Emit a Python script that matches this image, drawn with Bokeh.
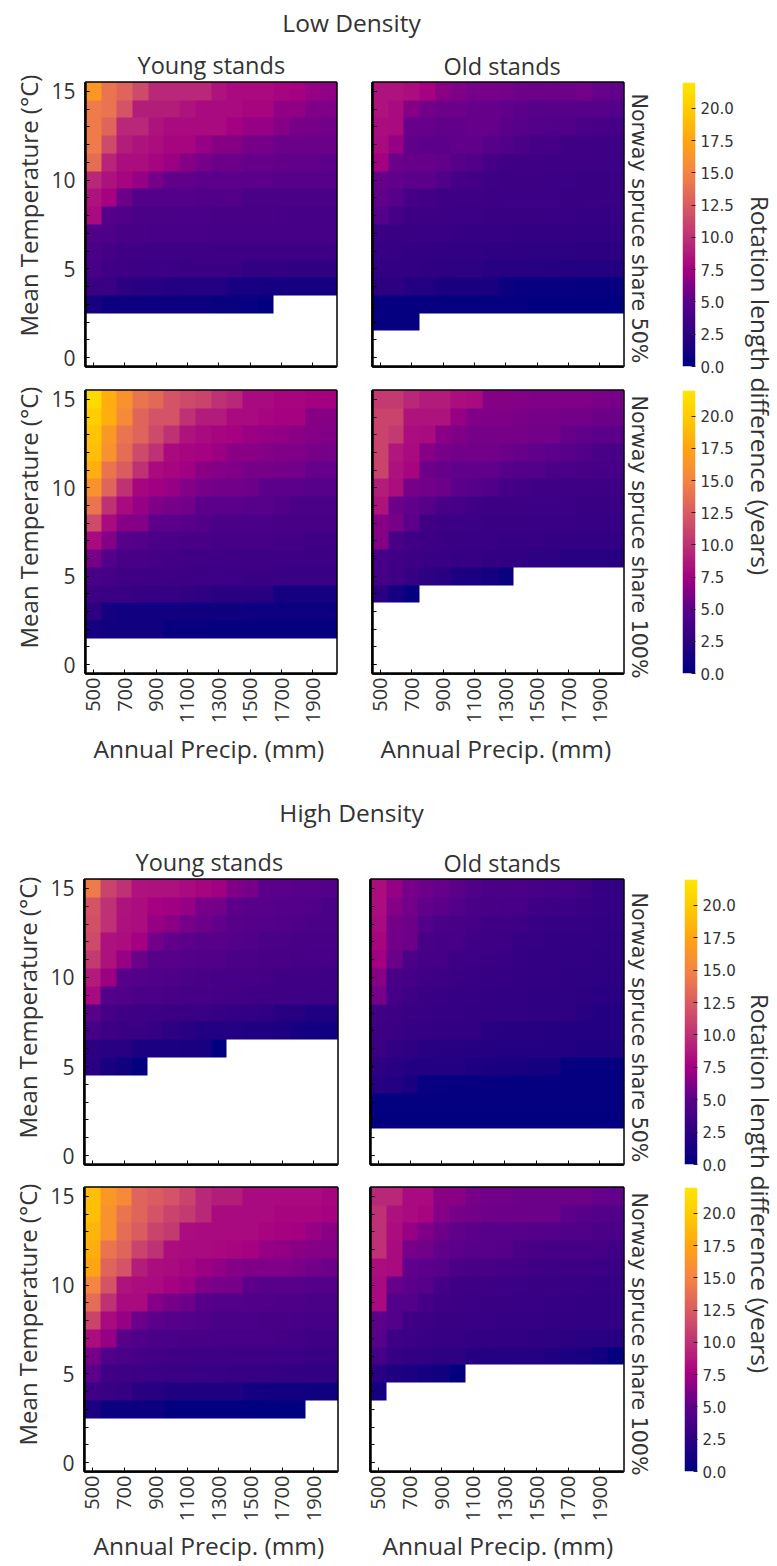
import numpy as np
from bokeh.plotting import figure
from bokeh.layouts import row, column
from bokeh.models import Label, LinearColorMapper, FixedTicker, Range1d, PrintfTickFormatter, Title
from bokeh.embed import file_html
from bokeh.resources import INLINE

_ = None
precip = list(range(500, 2100, 100))
temps = list(range(15, -1, -1))
x_ticks = [500, 700, 900, 1100, 1300, 1500, 1700, 1900]
y_ticks = [0, 5, 10, 15]
cbar_ticks = [0, 2.5, 5, 7.5, 10, 12.5, 15, 17.5, 20]
E16 = [_] * 16

low_young_50 = [
 [16.5,14,13,11.5,9.5,9.5,9.5,9.5,8.5,8,8,8,7.8,7.5,7,6.8],
 [14.5,14,12,9,9,9,8.5,8,8,8,7.8,7.8,6.8,6.8,6.2,6.2],
 [14.5,13,9.5,9.5,8.5,8,8,8,8,7.5,7,7,6.5,6,6,5.8],
 [14.5,11.5,9,8.5,8.2,7.8,7.8,7,6.5,6.5,6,6,5.5,5.5,5.5,5.5],
 [13.5,9.3,8.2,8.2,7.8,7.2,6.5,6,5.6,5.6,5.4,5.4,5.3,5.2,5.2,5],
 [9.5,8.4,7.8,7,6,5.2,5.2,5,5,5,5,5,4.8,4.8,4.8,4.8],
 [8.5,7.6,5.5,4.6,4.6,4.6,4.6,4.5,4.5,4.5,4.2,4.2,4.2,4.2,4.2,4.2],
 [8,4.7,4.4,4.2,4.2,4.2,4.1,4.1,4,4,4,4,3.9,3.9,3.9,3.9],
 [4.5,4.3,4,4,3.9,3.9,3.8,3.8,3.8,3.8,3.8,3.8,3.8,3.8,3.8,3.8],
 [4.2,3.8,3.6,3.6,3.5,3.5,3.5,3.5,3.4,3.4,3.4,3.4,3.4,3.4,3.4,3.4],
 [4,3.6,3.4,3.4,3.3,3.3,3.2,3.2,3.2,3.2,2.8,2.8,2.8,2.7,2.7,2.7],
 [3.2,3.2,2.5,2.4,2.3,2,2,1.9,1.9,1.3,1.3,1.2,1.2,1.2,1.2,1.2],
 [1.4,0.8,0.8,0.8,0.8,0.8,0.7,0.7,0.6,0.6,0.5,0.2,_,_,_,_],
 E16, E16, E16]

low_old_50 = [
 [8.5,8.5,8.2,7.6,6.6,6.2,6,6,5.8,5.6,5.6,5.6,5.6,5.8,5.4,5.2],
 [8.5,8,6.5,5.8,5.6,5.6,5.4,5.4,5.2,5,4.8,4.8,4.8,4.8,4.8,4.6],
 [8.2,8,5.4,5.4,5.2,5.2,5.4,5.4,5,4.8,4.6,4.4,4.4,4.2,4,3.8],
 [8,7,5.2,5,5,5.2,5.2,4.8,4.5,4.2,3.8,3.8,3.6,3.6,3.5,3.5],
 [7.5,5.5,5.4,5.4,5.2,4.8,4.5,3.8,3.6,3.6,3.6,3.5,3.5,3.4,3.4,3.3],
 [5.4,5.2,5,5,4.4,3.8,3.7,3.5,3.4,3.4,3.4,3.3,3.3,3.2,3.2,3.2],
 [5.2,4.8,3.8,3.7,3.6,3.5,3.5,3.4,3.3,3.3,3.3,3.3,3.2,3.2,3.2,3.2],
 [4.6,3.8,3.4,3.4,3.4,3.3,3.3,3.2,3.2,3.2,3.2,3.1,3.1,3,3,3],
 [3.2,3.2,3.2,3.1,3.1,3,3,3,3,2.9,2.9,2.9,2.9,2.8,2.8,2.8],
 [3,3,2.9,2.9,2.8,2.8,2.8,2.7,2.7,2.7,2.6,2.6,2.6,2.5,2.5,2.5],
 [2.9,2.8,2.8,2.7,2.7,2.6,2.6,2.2,2.2,2.2,2.1,2.1,2,2,2,2],
 [2.5,2.5,2,1.9,1.5,1.5,1.5,1.4,0.7,0.6,0.6,0.5,0.5,0.4,0.4,0.4],
 [0.4,0.4,0.4,0.4,0.3,0.3,0.3,0.3,0.3,0.3,0.2,0.2,0.2,0.2,0.2,0.2],
 [0.3,0.3,0.3,_,_,_,_,_,_,_,_,_,_,_,_,_],
 E16, E16]

low_young_100 = [
 [21,18,16,14,13.3,12,11.5,11,10,9.5,8,8,7.8,7.8,7.5,7.5],
 [20,18,15.5,13,12,12,10,8.8,8.8,8,8,7.8,7.6,7.6,6.5,6.5],
 [19.5,16.5,14,13,11.5,10,8.5,8,7.8,7.6,7.2,7,6.8,6.6,6.4,6.2],
 [19,16,13.5,11.5,10,8,7.8,7.6,7.2,6.6,6.6,6.4,6.2,6.2,6,6],
 [18,14,12.5,10,8,7.8,7.4,6.6,6.4,6.2,6,6,5.8,5.8,5.4,5.4],
 [16,13,10,7.8,7.4,7,6.4,6,5.8,5.8,5.6,5,5,5,4.8,4.8],
 [14,10,8,7,6.2,6,5.8,5,5,4.9,4.8,4.8,4.5,4.2,4.2,4.2],
 [11.5,8,6.5,6.4,5,4.9,4.8,4.5,4.2,4.2,4.1,4.1,4,4,4,4],
 [8,6.4,4.8,4.6,4.2,4.1,4,4,3.9,3.9,3.8,3.8,3.7,3.7,3.6,3.6],
 [6,4.6,4,4,3.8,3.7,3.6,3.6,3.6,3.5,3.5,3.5,3.4,3.4,3.4,3.4],
 [4,3.8,3.6,3.6,3.5,3.4,3.4,3.3,3.3,3.3,3.2,3.2,3.1,3.1,3.1,3.1],
 [3.4,3.2,3.2,3,3,3,2.8,2.6,2.4,2.4,2.3,2.3,1.2,1.2,1.2,1.2],
 [2.5,1.2,1,1,1,1,0.9,0.9,0.9,0.9,0.8,0.8,0.8,0.8,0.8,0.8],
 [1.2,1,1,1,1,0.4,0.4,0.4,0.3,0.3,0.3,0.3,0.3,0.3,0.3,0.3],
 E16, E16]

low_old_100 = [
 [10.5,10.5,9.5,8.8,8.8,8.2,8,6.5,6.5,6.3,6.2,6.2,6.2,6.2,6.1,6],
 [11,11,8.5,8.5,8.5,7,6.2,6.2,6.2,6.1,6,6,5.8,5.8,5.6,5.5],
 [11,10.5,8.2,8,6.6,6.2,6,6,6,6,5.8,5.8,5.4,5.2,5,5],
 [11,8.6,8,6.5,6,5.8,5.8,5.8,5.6,5.4,5.2,5,4.8,4.5,4.2,4],
 [11,8.4,7.8,5.6,5.4,5.2,5.2,5.2,4.8,4.6,4.6,4.2,4.1,4,3.8,3.8],
 [9,8.2,6,5.8,5.6,5,4.8,4.4,3.8,3.7,3.6,3.6,3.5,3.5,3.4,3.4],
 [8.5,5.6,5.2,4.8,4,3.8,3.6,3.4,3.4,3.4,3.3,3.3,3.3,3.2,3.2,3.2],
 [6.5,6,5,3.6,3.4,3.3,3.3,3.2,3.2,3.2,3.1,3.1,3.1,3,3,3],
 [6.4,4,3.6,3.4,3.2,3.2,3.1,3.1,3,3,3,2.9,2.9,2.8,2.8,2.8],
 [3.9,3.6,3.4,3.2,3.1,3,3,2.9,2.8,2.8,2.6,2.6,2.4,2.4,2.3,2.2],
 [3.8,3.6,3,2.6,2.4,1.7,1.6,1.2,0.6,_,_,_,_,_,_,_],
 [2.4,1.2,0.3,_,_,_,_,_,_,_,_,_,_,_,_,_],
 E16, E16, E16, E16]

high_young_50 = [
 [14.5,11,10,8.5,8.4,8.4,8,7.8,7.4,6.2,6,5,4.9,4.8,4.8,4.6],
 [12,10,8.5,8.2,7.6,7.4,7,6,5.8,5,4.8,4.8,4.6,4.6,4.4,4.2],
 [11.8,10,8.4,8.2,7,6.6,6,5.6,5.2,4.8,4.7,4.6,4.4,4.3,4.2,4.2],
 [11.5,8.4,8.2,7.5,5.8,5.2,5,4.8,4.8,4.6,4.4,4.2,4.2,4,4,4],
 [10.5,8.4,7,5.5,4.8,4.8,4.6,4.5,4.4,4.2,4.2,4,4,3.9,3.8,3.8],
 [8.8,7.2,4.8,4.6,4.4,4.3,4.2,4,3.9,3.8,3.8,3.7,3.6,3.6,3.6,3.5],
 [8,4.6,4.4,4.2,4.1,4,3.9,3.8,3.7,3.7,3.6,3.6,3.5,3.5,3.4,3.4],
 [4.8,3.8,3.6,3.5,3.3,3.2,3.2,3.1,3,2.9,2.8,2.6,2.2,2.2,1.8,1.8],
 [3.8,3.4,3.2,3.2,3,2.6,2.4,2,2,2,1.8,1.8,1.6,1.2,1.1,1],
 [2.5,2.4,2.2,1.6,1.6,1.6,1.5,1.3,0.2,_,_,_,_,_,_,_],
 [2.4,1.5,1,0.2,_,_,_,_,_,_,_,_,_,_,_,_],
 E16, E16, E16, E16, E16]

high_old_50 = [
 [8.2,7,6,5.6,5.4,5,4.4,4.2,4.2,4.2,4,3.8,3.8,3.6,3,2.9],
 [8.2,6.4,5.8,5.2,5,4.6,4.2,4,3.9,3.8,3.6,3.4,3.3,3.2,3,2.9],
 [8,5.9,5.6,4.6,4.2,4,3.8,3.6,3.6,3.4,3.1,3,3,3,2.9,2.8],
 [7.8,5.8,5.6,4,3.9,3.8,3.6,3.5,3.4,3,3,2.9,2.9,2.8,2.8,2.7],
 [7.4,5.5,4.2,3.9,3.8,3.4,3.3,3.2,3.1,3,2.9,2.9,2.8,2.8,2.7,2.6],
 [6.5,4,3.9,3.6,3.4,3.2,3.1,3,3,2.9,2.8,2.8,2.7,2.6,2.6,2.5],
 [6,3.8,3.5,3.2,3.1,3,3,2.9,2.8,2.8,2.7,2.7,2.6,2.5,2.4,2.4],
 [3.6,3.4,3.2,3.1,3,3,2.9,2.9,2.8,2.8,2.7,2.7,2.6,2.4,2,2],
 [3.4,3.2,3,3,2.9,2.8,2.8,2.4,2.2,2.2,2.2,2.1,2,2,2,2],
 [3.2,2.8,2.7,2.4,2.2,2.2,2.1,2.1,2,2,2,1.9,1.9,1.8,1.8,1.8],
 [2.6,2.4,2,2,1.9,1.9,1.7,1.5,1.4,1.4,1.2,1.2,0.3,0.3,0.3,0.3],
 [2.2,2,1.5,0.5,0.5,0.4,0.4,0.4,0.4,0.3,0.3,0.3,0.3,0.3,0.3,0.3],
 [0.3,0.3,0.3,0.3,0.3,0.3,0.3,0.3,0.3,0.3,0.3,0.3,0.3,0.3,0.3,0.3],
 [0.2,0.2,0.2,0.2,0.2,0.2,0.2,0.2,0.2,0.2,0.2,0.2,0.2,0.2,0.2,0.2],
 E16, E16]

high_young_100 = [
 [19,16.5,15.5,13,12.5,12,11,9.5,9,9,8,8,8,8,8,7.8],
 [19,16,14,13,12,11,10.5,9.5,8,8,8,8,7.8,7.8,7.8,7.6],
 [18.5,16,13.5,12.5,11,10.5,8.2,8,8,8,8,7.8,7.6,7.5,7,6.6],
 [18,14,13,11,10,8.2,8,8,7.9,7.8,7.6,7,6.8,6.6,6.4,6.4],
 [17.5,13,12,9,8.2,8,7.8,7.2,6.8,6.4,6.2,6.2,6.2,6.1,5.8,5.6],
 [15,12,8.5,8.2,8,7.6,7.2,6.2,6,6,5,4.8,4.8,4.8,4.6,4.6],
 [13.5,10,8,8,6.4,6,5.6,4.8,4.6,4.6,4.4,4.4,4.3,4.3,4.2,4.2],
 [11,8,7,5.6,5,4.8,4.6,4.4,4.2,4.2,4.1,4,4,3.9,3.8,3.8],
 [8.2,7,4.8,4.4,4.2,4.1,4,4,3.9,3.9,3.8,3.8,3.7,3.7,3.6,3.6],
 [6,4.4,4.2,3.8,3.7,3.6,3.6,3.5,3.5,3.4,3.4,3.4,3.3,3.3,3.2,3.2],
 [5,3.6,3.5,3.4,3.3,3.2,3.2,3.1,3.1,3,3,3,2.9,2.9,2.8,2.8],
 [3.6,3.2,3,2.4,2.2,1.8,1.8,1.8,1.8,1.8,1.2,1.1,1,1,0.9,0.9],
 [1.6,0.8,0.8,0.8,0.7,0.2,0.2,0.2,0.2,0.2,0.1,0.1,0.1,0.1,_,_],
 E16, E16, E16]

high_old_100 = [
 [9.5,9.5,8,8,6.6,6.6,6,5.8,5.8,5.6,5.6,5.6,5.6,5.6,5.4,5.2],
 [10,8.4,8,7.8,6.4,6,5.8,5.6,5.6,5.6,5.5,5.5,5,4.8,4.6,4.4],
 [10,8.2,7,6.2,5.6,5.2,5,4.8,4.8,4.8,4.7,4.6,4.4,4.4,4.2,4.2],
 [10,8,6,5.8,5.2,5,4.8,4.8,4.7,4.2,4,3.9,3.9,3.8,3.8,3.6],
 [8.2,8,5.2,5,4.8,4.2,4,4,3.8,3.7,3.6,3.5,3.4,3.4,3.3,3.2],
 [8,5.4,5,4.8,3.9,3.6,3.5,3.4,3.3,3.3,3.2,3.2,3.1,3.1,3,3],
 [8,4.6,4.6,3.8,3.6,3.4,3.3,3.2,3.2,3.1,3.1,3,3,2.9,2.9,2.8],
 [5,4.6,3.6,3.4,3.2,3.2,3.1,3.1,3,3,3,2.9,2.9,2.8,2.8,2.8],
 [4.8,3.5,3.3,3.1,3,3,2.9,2.9,2.8,2.8,2.7,2.6,2.5,2.4,2.4,2.2],
 [3.8,3,2.8,2.8,2.6,2.6,2.2,2,2,1.9,1.9,1.8,1.6,1.5,1,0.3],
 [2.4,1.8,1.6,1.2,1,0.2,_,_,_,_,_,_,_,_,_,_],
 [1.2,_,_,_,_,_,_,_,_,_,_,_,_,_,_,_],
 E16, E16, E16, E16]

cmap_stops = [0, 2.5, 5, 7.5, 10, 12.5, 15, 17.5, 20, 22]
cmap_r = [0, 45, 92, 165, 190, 218, 246, 255, 255, 255]
cmap_g = [0, 0, 0, 0, 50, 92, 132, 165, 205, 230]
cmap_b = [128, 130, 140, 130, 118, 98, 68, 20, 0, 0]
grid = np.linspace(0, 22, 256)
palette = ["#%02x%02x%02x" % (int(r), int(g), int(b)) for r, g, b in zip(
    np.interp(grid, cmap_stops, cmap_r), np.interp(grid, cmap_stops, cmap_g), np.interp(grid, cmap_stops, cmap_b))]
mapper = LinearColorMapper(palette=palette, low=0, high=22, nan_color="#ffffff")

INK = "#333333"
TF = "Open Sans"
TF2 = "DejaVu Sans"


def side_title(p, side, text, offset, standoff, size, font=TF):
    p.add_layout(Title(text=text, align="left", offset=offset, standoff=standoff, text_font=font,
                       text_font_size=size, text_font_style="normal", text_color=INK), side)


def panel(data, page, frame, first_col, bottom_row, title=None, share=None, temp_off=None, precip_off=None, so=6):
    L, R, T, B = page
    fl, fr, ft, fb = frame
    p = figure(width=R - L, height=B - T, x_range=Range1d(450, 2050), y_range=Range1d(-0.5, 15.5),
               min_border_left=fl - L, min_border_right=R - fr, min_border_top=ft - T, min_border_bottom=B - fb,
               output_backend="svg", toolbar_location=None, tools="", title=None)
    arr = np.array(data, dtype=float)[::-1]           # row 0 = 0 degC at the bottom
    fine = np.repeat(np.repeat(arr, 16, axis=0), 16, axis=1)
    p.image(image=[fine], x=450, y=-0.5, dw=1600, dh=16, color_mapper=mapper)
    p.grid.visible = False
    p.background_fill_color = "white"
    p.outline_line_color = "black"
    p.outline_line_width = 2.5
    ax, ay = p.xaxis[0], p.yaxis[0]
    ax.ticker = FixedTicker(ticks=x_ticks)
    ay.ticker = FixedTicker(ticks=y_ticks, minor_ticks=temps)
    for a in (ax, ay):
        a.axis_line_color = "black"
        a.axis_line_width = 2.5
        a.major_tick_in = 4
        a.major_tick_out = 0
        a.major_tick_line_color = "black"
        a.major_tick_line_width = 1
        a.minor_tick_in = 4
        a.minor_tick_out = 0
        a.minor_tick_line_color = "black"
        a.major_label_text_color = INK
        a.major_label_text_font = TF
        a.major_label_text_font_size = "20px"
    ax.minor_tick_line_color = None
    ax.major_label_orientation = np.pi / 2
    ax.major_label_standoff = 4
    ay.major_label_standoff = 10
    ay.major_label_text_font_size = "21px"
    if not bottom_row:
        ax.major_label_overrides = {t: "" for t in x_ticks}
        ax.major_label_text_font_size = "0px"
        ax.major_label_standoff = 0
    if not first_col:
        ay.major_label_overrides = {t: "" for t in y_ticks}
        ay.major_label_text_font_size = "0px"
        ay.major_label_standoff = 0
    if title:
        side_title(p, "above", title[0], title[1], title[2], "23.5px")
    if share:
        side_title(p, "right", share[0], share[1], 7, "20.6px", TF2)
    if temp_off is not None:
        side_title(p, "left", "Mean Temperature (°C)", temp_off, 7, "24px")
    if precip_off is not None:
        side_title(p, "below", "Annual Precip. (mm)", precip_off, so, "24.5px")
    return p


def cbar(page, frame):
    L, R, T, B = page
    fl, fr, ft, fb = frame
    p = figure(width=R - L, height=B - T, x_range=Range1d(0, 1), y_range=Range1d(0, 22),
               min_border_left=fl - L, min_border_right=R - fr, min_border_top=ft - T, min_border_bottom=B - fb,
               y_axis_location="right", x_axis_location=None,
               output_backend="svg", toolbar_location=None, tools="")
    ramp = np.linspace(0, 22, 256).reshape(-1, 1)
    p.image(image=[ramp], x=0, y=0, dw=1, dh=22, color_mapper=mapper)
    p.grid.visible = False
    p.outline_line_color = None
    a = p.yaxis[0]
    a.ticker = FixedTicker(ticks=cbar_ticks)
    a.formatter = PrintfTickFormatter(format="%.1f")
    a.axis_line_color = None
    a.major_tick_in = 4
    a.major_tick_out = 0
    a.minor_tick_line_color = None
    a.major_tick_line_color = "#222222"
    a.major_label_text_color = INK
    a.major_label_text_font = TF2
    a.major_label_text_font_size = "15px"
    a.major_label_standoff = 5
    return p


def blank(w, h, text, x, y, size, angle=0):
    p = figure(width=w, height=h, x_range=Range1d(0, w), y_range=Range1d(h, 0), min_border=0,
               x_axis_location=None, y_axis_location=None, output_backend="svg", toolbar_location=None, tools="")
    p.grid.visible = False
    p.outline_line_color = None
    p.add_layout(Label(x=x, y=y, text=text, text_font=TF, text_font_size=size, text_color=INK,
                       text_align="center", text_baseline="middle", angle=angle, angle_units="deg"))
    return p


# page columns: 0-350, 350-665, 665-738, 738-777
A = panel(low_young_50, (0, 350, 40, 378), (85, 336, 81, 366), True, False,
          title=("Young stands", 52, 4), temp_off=30)
B = panel(low_old_50, (350, 665, 40, 378), (372, 623, 81, 367), False, False,
          title=("Old stands", 71, 1), share=("Norway spruce share 50%", 11))
C = panel(low_young_100, (0, 350, 378, 775), (85, 336, 388, 673), True, True, temp_off=25, precip_off=8)
D = panel(low_old_100, (350, 665, 378, 775), (372, 623, 390, 675), False, True,
          share=("Norway spruce share 100%", 5), precip_off=8)
E = panel(high_young_50, (0, 350, 835, 1176), (84, 337, 877, 1165), True, False,
          title=("Young stands", 51, 4), temp_off=26)
F = panel(high_old_50, (350, 665, 835, 1176), (370, 623, 877, 1165), False, False,
          title=("Old stands", 73, 1), share=("Norway spruce share 50%", 13))
G = panel(high_young_100, (0, 350, 1176, 1566), (84, 337, 1187, 1474), True, True, temp_off=26, precip_off=9, so=4)
H = panel(high_old_100, (350, 665, 1176, 1566), (370, 623, 1187, 1474), False, True,
          share=("Norway spruce share 100%", 5), precip_off=12, so=4)

cb1 = cbar((665, 738, 40, 378), (682, 695, 82, 367))
cb2 = cbar((665, 738, 378, 775), (682, 695, 389, 674))
cb3 = cbar((665, 738, 835, 1176), (684, 698, 879, 1164))
cb4 = cbar((665, 738, 1176, 1566), (684, 698, 1187, 1471))

s1 = blank(738, 40, "Low Density", 351, 22, "24.5px")
s2 = blank(738, 60, "High Density", 351, 37, "24.5px")
l1 = blank(39, 775, "Rotation length difference (years)", 22, 385, "24.5px", -90)
l2 = blank(39, 791, "Rotation length difference (years)", 22, 408, "24.5px", -90)

layout = column(
    row(column(s1, row(A, B, cb1, spacing=0), row(C, D, cb2, spacing=0), spacing=0), l1, spacing=0),
    row(column(s2, row(E, F, cb3, spacing=0), row(G, H, cb4, spacing=0), spacing=0), l2, spacing=0),
    spacing=0)

open("out.html", "w").write(file_html(layout, INLINE))
